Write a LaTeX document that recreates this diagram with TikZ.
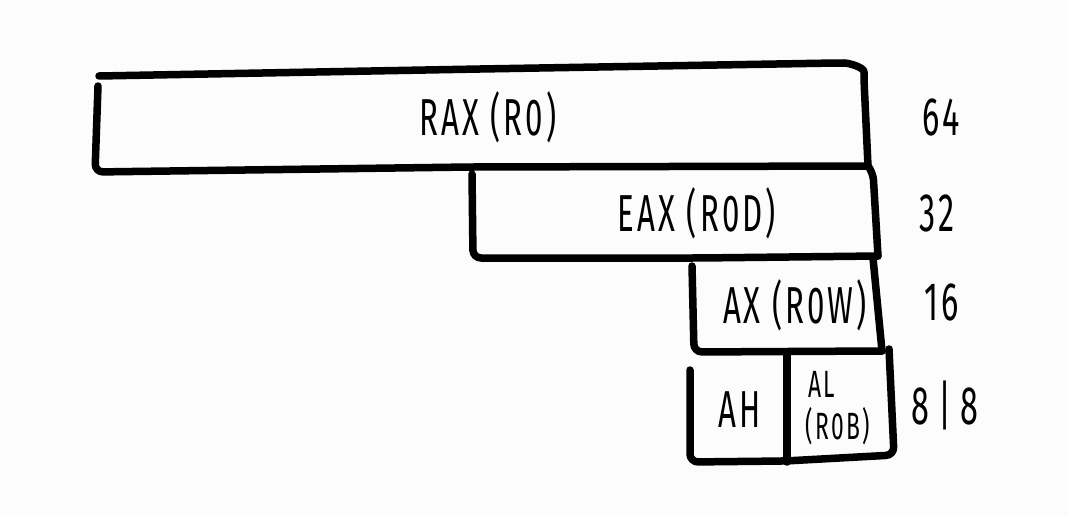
\documentclass[tikz,border=0pt]{standalone}
\usepackage{fontspec}
\setmainfont{Fira Sans}[FakeStretch=0.6, LetterSpace=6]
\usepackage{xcolor}
\definecolor{paper}{HTML}{FCFCFC}
\usetikzlibrary{positioning}

\begin{document}
\begin{tikzpicture}[
  x=1pt, y=-1pt,
  sketch/.style={line width=7.5, line cap=round, line join=round, rounded corners=8},
  reglabel/.style={font=\fontsize{52}{56}\selectfont, inner sep=0},
  smalllabel/.style={font=\fontsize{38}{40}\selectfont, inner sep=0},
  bitlabel/.style={font=\fontsize{54}{56}\selectfont, inner sep=0}
]

% Page
\fill[paper] (0,0) rectangle (1068,516);
\useasboundingbox (0,0) rectangle (1068,516);

% RAX
\draw[sketch] (99,76) -- (480,69) -- (836,63) to[out=0,in=90] (864,80) -- (868,166);
\draw[sketch] (98,86) -- (95,172) -- (470,167) -- (868,166);

% EAX
\draw[sketch] (472,174) -- (473,258) -- (700,258) -- (878,256);
\draw[sketch] (868,166) -- (873,172) -- (878,256);

% AX
\draw[sketch] (692,266) -- (694,352) -- (882,351);
\draw[sketch] (873,258) -- (882,351);

% AH / AL
\draw[sketch] (690,370) -- (690,462) -- (785,461) -- (894,455) -- (889,349);
\draw[sketch] (787,356) -- (787,462);

% Labels
\node[reglabel] (rax) at (488,117) {RAX (R0)};
\node[reglabel] (eax) at (697,213) {EAX (R0D)};
\node[reglabel] (ax) at (795,305) {AX (R0W)};
\node[reglabel] (ah) at (740,410) {AH};
\node[smalllabel] (al) at (822,384) {AL};
\node[smalllabel] (alname) at (838,426) {(R0B)};

% Widths
\node[bitlabel] (w64) at (941,117) {64};
\node[bitlabel] (w32) at (937,213) {32};
\node[bitlabel] (w16) at (942,302) {16};
\node[bitlabel] (w8) at (945,405) {8\,|\,8};

\end{tikzpicture}
\end{document}
